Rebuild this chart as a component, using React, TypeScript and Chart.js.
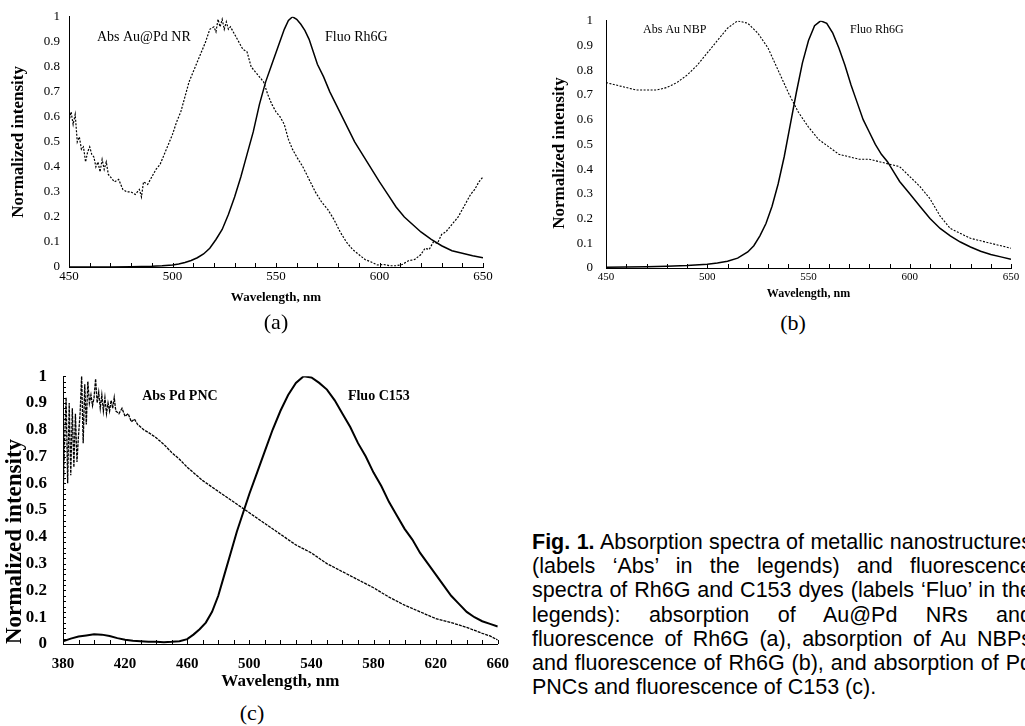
import React, { useEffect, useRef } from "react";
import { Chart, registerables } from "chart.js";

Chart.register(...registerables);

// ---------- Panel (a): Au@Pd NR absorption / Rh6G fluorescence ----------
const aAbsWl = [450,451,452,453,454,455,456,457,458,459,460,461,462,463,464,465,466,467,468,469,470,472,474,476,478,480,482,484,485,486,488,490,492,494,496,498,500,502,504,506,508,510,512,514,516,518,520,521,522,523,524,525,526,527,528,530,532,534,536,538,540,542,544,546,548,550,552,554,556,558,560,563,566,569,572,575,578,581,584,587,590,593,596,599,602,605,608,611,614,617,620,622,624,626,628,630,632,634,636,638,640,642,644,646,648,650];
const aAbsVal = [0.58,0.62,0.57,0.61,0.5,0.52,0.47,0.48,0.42,0.46,0.48,0.45,0.44,0.4,0.42,0.38,0.43,0.39,0.42,0.37,0.36,0.34,0.35,0.31,0.3,0.3,0.29,0.31,0.28,0.34,0.33,0.36,0.39,0.41,0.45,0.49,0.53,0.58,0.62,0.68,0.74,0.78,0.82,0.86,0.9,0.95,0.96,0.94,0.99,0.96,0.99,0.95,0.98,0.95,0.96,0.93,0.9,0.87,0.86,0.8,0.78,0.76,0.74,0.69,0.65,0.62,0.6,0.57,0.51,0.47,0.44,0.4,0.35,0.3,0.26,0.23,0.19,0.14,0.1,0.07,0.05,0.03,0.02,0.008,0.01,0.005,0.005,0.01,0.025,0.03,0.05,0.075,0.07,0.1,0.095,0.13,0.14,0.16,0.18,0.2,0.23,0.26,0.29,0.31,0.34,0.36];
const aFluoWl = [450,460,470,480,490,495,500,503,506,509,512,515,518,521,524,527,530,533,536,539,542,545,548,551,554,556,558,560,562,564,566,568,570,573,576,579,582,585,588,591,594,597,600,604,608,612,616,620,625,630,635,640,645,650];
const aFluoVal = [0,0,0,0.001,0.003,0.005,0.008,0.012,0.018,0.026,0.037,0.052,0.075,0.11,0.15,0.21,0.28,0.36,0.45,0.54,0.65,0.74,0.81,0.88,0.95,0.985,1.0,0.99,0.97,0.945,0.91,0.86,0.81,0.76,0.7,0.65,0.6,0.55,0.5,0.46,0.42,0.38,0.34,0.29,0.24,0.2,0.17,0.14,0.11,0.085,0.065,0.055,0.045,0.037];

// ---------- Panel (b): Au NBP absorption / Rh6G fluorescence ----------
const bAbsWl = [450,455,460,465,470,475,480,485,490,495,500,505,510,515,520,525,530,535,540,545,550,555,560,565,570,575,580,585,590,595,600,605,610,615,620,625,630,635,640,645,650];
const bAbsVal = [0.75,0.74,0.73,0.72,0.72,0.72,0.73,0.75,0.78,0.82,0.87,0.92,0.97,1.0,0.99,0.95,0.89,0.8,0.71,0.63,0.57,0.52,0.49,0.46,0.45,0.44,0.44,0.43,0.42,0.41,0.37,0.33,0.28,0.21,0.16,0.14,0.12,0.11,0.1,0.09,0.08];
const bFluoWl = [450,460,470,480,490,500,505,510,515,520,523,526,529,532,535,538,541,544,547,550,553,556,559,562,565,568,571,574,577,580,583,586,589,592,595,600,605,610,615,620,625,630,635,640,645,650];
const bFluoVal = [0.003,0.004,0.005,0.007,0.01,0.015,0.02,0.027,0.04,0.065,0.09,0.13,0.18,0.25,0.34,0.45,0.58,0.71,0.83,0.92,0.98,1.0,0.99,0.95,0.89,0.82,0.74,0.67,0.6,0.55,0.5,0.46,0.43,0.39,0.35,0.3,0.25,0.2,0.16,0.13,0.105,0.085,0.068,0.055,0.045,0.035];

// ---------- Panel (c): Pd PNC absorption / C153 fluorescence ----------
const cAbsWl = [380,381,382,383,384,385,386,387,388,389,390,391,392,393,394,395,396,397,398,399,400,401,402,403,404,405,406,407,408,409,410,411,412,413,414,416,418,420,422,424,426,428,430,432,435,440,445,450,455,460,470,480,490,500,510,520,530,540,550,560,570,580,590,600,610,620,630,640,650,655,660];
const cAbsVal = [0.52,0.75,0.92,0.6,0.9,0.63,0.88,0.66,0.86,0.68,0.78,0.86,1.0,0.75,0.97,0.82,0.98,0.9,0.93,0.89,0.92,0.99,0.9,0.94,0.88,0.93,0.87,0.92,0.86,0.9,0.87,0.91,0.88,0.92,0.87,0.86,0.88,0.85,0.86,0.83,0.84,0.82,0.81,0.8,0.79,0.77,0.745,0.715,0.69,0.66,0.61,0.57,0.53,0.49,0.45,0.41,0.37,0.34,0.3,0.27,0.24,0.21,0.175,0.145,0.12,0.095,0.08,0.062,0.04,0.03,0.015];
const cFluoWl = [380,385,390,395,400,405,410,415,420,425,430,435,440,445,450,455,460,464,468,472,476,480,484,488,492,496,500,505,510,515,520,525,530,535,540,545,550,555,560,565,570,575,580,585,590,595,600,605,610,615,620,625,630,635,640,645,650,655,660];
const cFluoVal = [0.01,0.02,0.028,0.032,0.036,0.035,0.03,0.022,0.016,0.012,0.01,0.008,0.008,0.007,0.008,0.01,0.018,0.035,0.055,0.08,0.12,0.18,0.26,0.34,0.42,0.49,0.56,0.64,0.72,0.8,0.87,0.93,0.975,1.0,0.995,0.975,0.95,0.91,0.86,0.81,0.75,0.7,0.64,0.59,0.53,0.48,0.43,0.39,0.34,0.3,0.26,0.22,0.18,0.15,0.12,0.1,0.085,0.075,0.065];

// ---------- Tick labels ----------
const xTicksAB = [450, 500, 550, 600, 650];
const xTicksC = [380, 420, 460, 500, 540, 580, 620, 660];
const yTicks = [0, 0.1, 0.2, 0.3, 0.4, 0.5, 0.6, 0.7, 0.8, 0.9, 1];

const captionLines = [
  "(labels \u2018Abs\u2019 in the legends) and fluorescence",
  "spectra of Rh6G and C153 dyes (labels \u2018Fluo\u2019 in the",
  "legends): absorption of Au@Pd NRs and",
  "fluorescence of Rh6G (a), absorption of Au NBPs",
  "and fluorescence of Rh6G (b), and absorption of Pd",
  "PNCs and fluorescence of C153 (c).",
];

const SERIF = "'Liberation Serif', 'Times New Roman', serif";

const decorPlugin = {
  id: "decor",
  afterDraw(chart: any, _args: any, opts: any) {
    const { ctx, chartArea } = chart;
    const xs = chart.scales.x;
    const ys = chart.scales.y;
    ctx.save();
    ctx.strokeStyle = "#000";
    ctx.lineWidth = 1;
    if (opts.xStep) {
      for (let v = xs.min; v <= xs.max + 1e-6; v += opts.xStep) {
        const px = Math.round(xs.getPixelForValue(v)) + 0.5;
        ctx.beginPath();
        ctx.moveTo(px, chartArea.bottom);
        ctx.lineTo(px, chartArea.bottom - opts.xLen);
        ctx.stroke();
      }
    }
    if (opts.yStep) {
      for (let v = ys.min; v <= ys.max + 1e-6; v += opts.yStep) {
        const py = Math.round(ys.getPixelForValue(v)) + 0.5;
        ctx.beginPath();
        ctx.moveTo(chartArea.left, py);
        ctx.lineTo(chartArea.left + opts.yLen, py);
        ctx.stroke();
      }
    }
    ctx.fillStyle = "#000";
    ctx.textAlign = "left";
    ctx.textBaseline = "middle";
    for (const l of opts.labels || []) {
      ctx.font = l.font;
      ctx.fillText(l.text, xs.getPixelForValue(l.x), ys.getPixelForValue(l.y));
    }
    if (opts.yTitle) {
      const t = opts.yTitle;
      ctx.save();
      ctx.translate(t.cx, t.cy);
      ctx.rotate(-Math.PI / 2);
      ctx.font = t.font;
      ctx.textAlign = "center";
      ctx.textBaseline = "middle";
      ctx.fillText(t.text, 0, 0);
      ctx.restore();
    }
    ctx.restore();
  },
};

function series(wl: number[], val: number[], width: number, dash: number[]) {
  return {
    data: wl.map((x, i) => ({ x, y: val[i] })),
    borderColor: "#000",
    borderWidth: width,
    borderDash: dash,
    pointRadius: 0,
    tension: 0,
    fill: false,
  };
}

function makeConfig(p: any) {
  return {
    type: "line",
    data: { datasets: p.datasets },
    plugins: [decorPlugin],
    options: {
      animation: false,
      responsive: false,
      events: [],
      layout: { padding: { top: p.padTop, right: p.padRight, left: 0, bottom: 0 } },
      plugins: {
        legend: { display: false },
        tooltip: { enabled: false },
        decor: p.decor,
      },
      scales: {
        x: {
          type: "linear",
          min: p.xMin,
          max: p.xMax,
          afterBuildTicks: (s: any) => { s.ticks = p.xTicks.map((v: number) => ({ value: v })); },
          afterFit: (s: any) => { s.height = p.xHeight; },
          grid: { display: false, drawTicks: false, tickLength: 0 },
          border: { display: true, color: "#000", width: 1 },
          ticks: {
            autoSkip: false,
            maxRotation: 0,
            padding: p.xTickPad,
            color: "#000",
            font: { family: SERIF, size: p.xTickSize, weight: p.xTickWeight },
          },
          title: {
            display: true,
            text: "Wavelength, nm",
            color: "#000",
            font: { family: SERIF, size: p.xTitleSize, weight: "bold" },
            padding: { top: 0, bottom: p.xTitlePad },
          },
        },
        y: {
          type: "linear",
          min: 0,
          max: 1,
          afterBuildTicks: (s: any) => { s.ticks = yTicks.map((v) => ({ value: v })); },
          afterFit: (s: any) => { s.width = p.yWidth; },
          grid: { display: false, drawTicks: false, tickLength: 0 },
          border: { display: true, color: "#000", width: 1 },
          ticks: {
            autoSkip: false,
            padding: p.yTickPad,
            color: "#000",
            font: { family: SERIF, size: p.yTickSize, weight: p.yTickWeight },
            callback: (v: number) => String(Math.round(v * 10) / 10),
          },
          title: {
            display: p.yTitleBuiltin,
            text: "Normalized intensity",
            color: "#000",
            align: p.yTitleAlign,
            font: { family: SERIF, size: p.yTitleSize, weight: "bold" },
            padding: { top: p.yTitlePad, bottom: 0 },
          },
        },
      },
    },
  };
}

function ChartCanvas({ left, top, width, height, cfg }: any) {
  const ref = useRef<HTMLCanvasElement>(null);
  useEffect(() => {
    const chart = new Chart(ref.current as HTMLCanvasElement, makeConfig(cfg) as any);
    return () => chart.destroy();
  }, []);
  return (
    <canvas
      ref={ref}
      width={width}
      height={height}
      style={{ position: "absolute", left, top, width, height }}
    />
  );
}

const panelA = {
  datasets: [series(aAbsWl, aAbsVal, 1.2, [2, 1.5]), series(aFluoWl, aFluoVal, 1.5, [])],
  padTop: 16, padRight: 27, xMin: 450, xMax: 650, xTicks: xTicksAB, xHeight: 43,
  xTickPad: 2, xTickSize: 13, xTickWeight: "normal", xTitleSize: 13, xTitlePad: 5,
  yWidth: 69, yTickPad: 9, yTickSize: 13, yTickWeight: "normal",
  yTitleBuiltin: true, yTitleAlign: "center", yTitleSize: 17, yTitlePad: 8,
  decor: {
    xStep: 10, xLen: 4,
    labels: [
      { text: "Abs Au@Pd NR", x: 463.5, y: 0.916, font: `14px ${SERIF}` },
      { text: "Fluo Rh6G", x: 573.7, y: 0.916, font: `14px ${SERIF}` },
    ],
  },
};

const panelB = {
  datasets: [series(bAbsWl, bAbsVal, 1.1, [2, 1.5]), series(bFluoWl, bFluoVal, 1.5, [])],
  padTop: 16, padRight: 14, xMin: 450, xMax: 650, xTicks: xTicksAB, xHeight: 42,
  xTickPad: 3, xTickSize: 11, xTickWeight: "normal", xTitleSize: 12, xTitlePad: 9,
  yWidth: 66, yTickPad: 13, yTickSize: 13, yTickWeight: "normal",
  yTitleBuiltin: false, yTitleAlign: "center", yTitleSize: 17, yTitlePad: 10,
  decor: {
    xStep: 10, xLen: 4,
    yTitle: { text: "Normalized intensity", cx: 20, cy: 153, font: `bold 17px ${SERIF}` },
    labels: [
      { text: "Abs Au NBP", x: 468.3, y: 0.964, font: `12px ${SERIF}` },
      { text: "Fluo Rh6G", x: 570.5, y: 0.964, font: `12px ${SERIF}` },
    ],
  },
};

const panelC = {
  datasets: [series(cAbsWl, cAbsVal, 1.3, [3, 1]), series(cFluoWl, cFluoVal, 2, [])],
  padTop: 22, padRight: 19, xMin: 380, xMax: 660, xTicks: xTicksC, xHeight: 56,
  xTickPad: 11, xTickSize: 15, xTickWeight: "bold", xTitleSize: 17, xTitlePad: 8,
  yWidth: 63, yTickPad: 16, yTickSize: 17, yTickWeight: "bold",
  yTitleBuiltin: true, yTitleAlign: "start", yTitleSize: 23, yTitlePad: 1,
  decor: {
    xStep: 10, xLen: 4, yStep: 0.02, yLen: 3,
    labels: [
      { text: "Abs Pd PNC", x: 431, y: 0.923, font: `bold 14px ${SERIF}` },
      { text: "Fluo C153", x: 563.5, y: 0.923, font: `bold 14px ${SERIF}` },
    ],
  },
};

const letterStyle: any = {
  position: "absolute",
  fontFamily: SERIF,
  fontSize: 22,
  color: "#000",
  transform: "translate(-50%, -50%)",
  lineHeight: 1,
};

export default function App() {
  const lineStyle: any = {
    height: 24.2,
    lineHeight: "24.2px",
    whiteSpace: "nowrap",
    textAlign: "justify",
    textAlignLast: "justify",
  };
  return (
    <div
      style={{
        position: "absolute",
        left: 0,
        top: 0,
        width: 1025,
        height: 726,
        overflow: "hidden",
        background: "#fff",
      }}
    >
      <ChartCanvas left={0} top={0} width={510} height={310} cfg={panelA} />
      <ChartCanvas left={540} top={0} width={485} height={310} cfg={panelB} />
      <ChartCanvas left={0} top={350} width={520} height={350} cfg={panelC} />
      <div style={{ ...letterStyle, left: 276, top: 322 }}>(a)</div>
      <div style={{ ...letterStyle, left: 793, top: 323 }}>(b)</div>
      <div style={{ ...letterStyle, left: 252, top: 713 }}>(c)</div>
      <div
        style={{
          position: "absolute",
          left: 532,
          top: 530,
          width: 500,
          fontFamily: "'Liberation Sans', Arial, sans-serif",
          fontSize: 21.5,
          color: "#000",
        }}
      >
        <div style={lineStyle}>
          <b>Fig. 1.</b> Absorption spectra of metallic nanostructures
        </div>
        {captionLines.map((t, i) => (
          <div
            key={i}
            style={
              i === captionLines.length - 1
                ? { ...lineStyle, textAlign: "left", textAlignLast: "left" }
                : { ...lineStyle, whiteSpace: "normal" }
            }
          >
            {t}
          </div>
        ))}
      </div>
    </div>
  );
}
